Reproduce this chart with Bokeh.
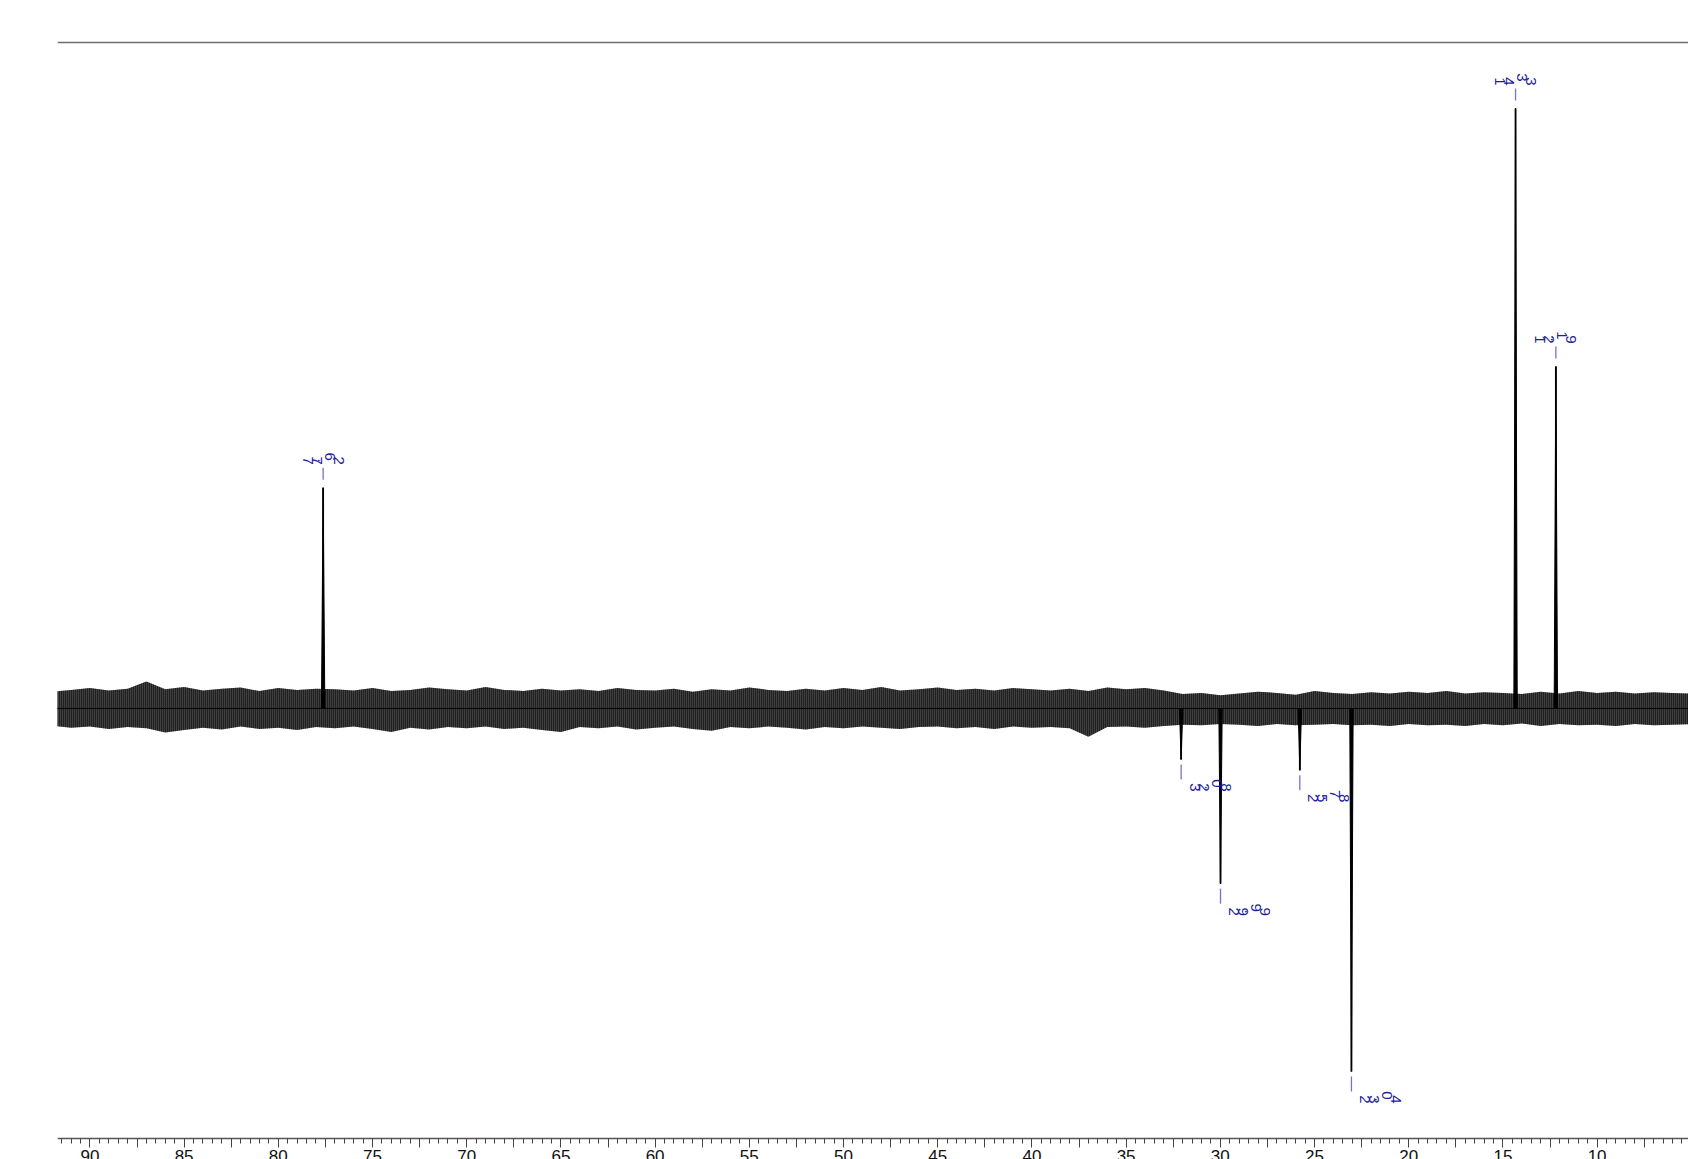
import math
from bokeh.plotting import figure
from bokeh.models import Range1d, FixedTicker, LinearAxis, Span, ColumnDataSource
from bokeh.embed import file_html
from bokeh.resources import INLINE
from bokeh.core.properties import value

# ---- data ----
peak_ppm = [77.62, 14.33, 12.19, 32.08, 29.99, 25.78, 23.04]
peak_int = [36.8, 100.0, 57.0, -8.5, -29.2, -10.3, -60.5]
peak_labels = ["77.62", "14.33", "12.19", "32.08", "29.99", "25.78", "23.04"]

# noise envelope (upper / lower edge of the baseline noise), read every 1 ppm
noise_ppm = [92, 91, 90, 89, 88, 87, 86, 85, 84, 83, 82, 81, 80, 79, 78, 77, 76, 75, 74, 73,
             72, 71, 70, 69, 68, 67, 66, 65, 64, 63, 62, 61, 60, 59, 58, 57, 56, 55, 54, 53,
             52, 51, 50, 49, 48, 47, 46, 45, 44, 43, 42, 41, 40, 39, 38, 37, 36, 35, 34, 33,
             32, 31, 30, 29, 28, 27, 26, 25, 24, 23, 22, 21, 20, 19, 18, 17, 16, 15, 14, 13,
             12, 11, 10, 9, 8, 7, 6, 5]
noise_hi = [2.8, 3.1, 3.4, 3.0, 3.3, 4.5, 3.2, 3.6, 3.0, 3.3, 3.5, 2.9, 3.4, 3.1, 3.3, 3.2, 3.0, 3.4, 2.9, 3.1,
            3.5, 3.2, 3.0, 3.6, 3.1, 2.9, 3.3, 3.0, 3.2, 2.9, 3.4, 3.1, 3.0, 3.3, 2.8, 3.2, 3.0, 3.5, 3.1, 2.9,
            3.3, 3.0, 3.4, 3.1, 3.6, 3.0, 3.2, 3.5, 3.1, 3.3, 3.0, 3.4, 3.2, 3.0, 3.3, 2.9, 3.5, 3.2, 3.4, 3.0,
            2.4, 2.6, 2.2, 2.5, 2.8, 2.6, 2.3, 2.9, 2.6, 2.4, 2.7, 2.5, 2.8, 2.6, 2.9, 2.5, 2.7, 2.6, 2.4, 2.8,
            2.5, 2.9, 2.6, 2.8, 2.5, 2.7, 2.6, 2.5]
noise_lo = [-2.9, -3.2, -3.0, -3.4, -3.1, -3.3, -4.0, -3.6, -3.2, -3.5, -3.0, -3.4, -3.2, -3.6, -3.1, -3.3, -3.0, -3.4, -3.9, -3.2,
            -3.5, -3.1, -3.3, -3.0, -3.4, -3.2, -3.6, -3.9, -3.1, -3.3, -3.0, -3.5, -3.2, -3.0, -3.4, -3.7, -3.1, -3.3, -3.0, -3.2,
            -3.5, -3.1, -3.3, -3.0, -3.2, -3.4, -3.1, -3.0, -3.3, -3.1, -3.4, -3.0, -3.2, -3.1, -3.3, -4.7, -3.1, -3.0, -3.2, -2.9,
            -2.7, -2.8, -2.6, -2.7, -2.9, -2.6, -2.8, -2.7, -2.6, -2.8, -2.7, -2.9, -2.6, -2.8, -2.7, -2.9, -2.6, -2.8, -2.5, -2.9,
            -2.6, -2.8, -2.7, -2.9, -2.6, -2.8, -2.7, -2.6]
assert len(noise_ppm) == len(noise_hi) == len(noise_lo)

major_ticks = [90, 87.5, 85, 82.5, 80, 77.5, 75, 72.5, 70, 67.5, 65, 62.5, 60, 57.5, 55, 52.5,
               50, 47.5, 45, 42.5, 40, 37.5, 35, 32.5, 30, 27.5, 25, 22.5, 20, 17.5, 15, 12.5,
               10, 7.5, 5]
tick_labels = ["90", "", "85", "", "80", "", "75", "", "70", "", "65", "", "60", "", "55", "",
               "50", "", "45", "", "40", "", "35", "", "30", "", "25", "", "20", "", "15", "",
               "10", "", "5"]
minor_ticks = [91.5 - 0.5 * i for i in range(174)]

# ---- layout / style constants ----
PX_PER_UNIT = 6.0
W, H = 1688, 1159
LABEL_BLUE = "#1c1c9c"
TICK_BLUE = "#7474c4"

p = figure(width=W, height=H, output_backend="svg", toolbar_location=None,
           x_range=Range1d(91.72, 5.15), y_range=Range1d(-75.17, 118.0),
           x_axis_location=None, y_axis_location=None,
           min_border_left=57, min_border_right=0, min_border_top=0, min_border_bottom=0)
p.grid.visible = False
p.outline_line_color = None
p.background_fill_color = "white"

# top border line
p.add_layout(Span(location=111.0, dimension="width", line_color="#6e6e6e", line_width=1.5))

# x axis (fixed inside the frame)
ax = LinearAxis(fixed_location=-71.67)
ax.ticker = FixedTicker(ticks=major_ticks, minor_ticks=minor_ticks)
ax.major_label_overrides = {float(t): l for t, l in zip(major_ticks, tick_labels)}
ax.axis_line_color = "#555555"
ax.axis_line_width = 1.5
ax.major_tick_in = 0
ax.major_tick_out = 9
ax.minor_tick_in = 0
ax.minor_tick_out = 5
ax.major_tick_line_color = "#444444"
ax.minor_tick_line_color = "#444444"
ax.major_label_standoff = 2
ax.major_label_text_font = "Liberation Sans"
ax.major_label_text_font_size = "17px"
ax.major_label_text_color = "#111111"
p.add_layout(ax, "below")

# noise band
p.varea(x=noise_ppm, y1=noise_lo, y2=noise_hi, fill_color="#000000", fill_alpha=0.75,
        hatch_pattern="vertical_line", hatch_scale=2.0, hatch_weight=1.0,
        hatch_color="#000000", hatch_alpha=1.0)
p.line(x=noise_ppm, y=[0.0] * len(noise_ppm), line_color="#000000", line_width=1.0)

# peaks
W_PPM = 0.09
xs = [[c + W_PPM, c, c - W_PPM] for c in peak_ppm]
ys = [[0.0, h, 0.0] for h in peak_int]
p.patches(xs=xs, ys=ys, fill_color="#000000", line_color="#000000", line_width=1.0)
p.segment(x0=peak_ppm, y0=[0.0] * len(peak_ppm), x1=peak_ppm, y1=peak_int,
          line_color="#000000", line_width=1.8)

# blue label ticks
t0, t1 = [], []
for h in peak_int:
    if h > 0:
        t0.append(h + 8 / PX_PER_UNIT)
        t1.append(h + 20 / PX_PER_UNIT)
    else:
        t0.append(h - 5 / PX_PER_UNIT)
        t1.append(h - 20 / PX_PER_UNIT)
p.segment(x0=peak_ppm, y0=t0, x1=peak_ppm, y1=t1, line_color=TICK_BLUE, line_width=1.3)

# peak labels (characters rotated individually, laid out side by side as in the reference)
cx, cy, cxo, cyo, ct = [], [], [], [], []
for c, h, lab in zip(peak_ppm, peak_int, peak_labels):
    adv = [4 if ch == "." else 9 for ch in lab]
    total = sum(adv)
    pos = []
    acc = 0
    for a in adv:
        pos.append(acc + a / 2)
        acc += a
    if h > 0:
        start = -total / 2
        base_y = -27
    else:
        start = 9
        base_y = 28
    for i, ch in enumerate(lab):
        cx.append(c)
        cy.append(h)
        cxo.append(start + pos[i])
        cyo.append(base_y - (4 if i == 3 else 0))
        ct.append(ch)
src = ColumnDataSource(dict(x=cx, y=cy, xo=cxo, yo=cyo, t=ct))
p.text(x="x", y="y", text="t", x_offset="xo", y_offset="yo", source=src,
       angle=-math.pi / 2, text_align="center", text_baseline="middle",
       text_font=value("Liberation Sans"), text_font_size="15px", text_color=LABEL_BLUE)

open("out.html", "w").write(file_html(p, INLINE))
